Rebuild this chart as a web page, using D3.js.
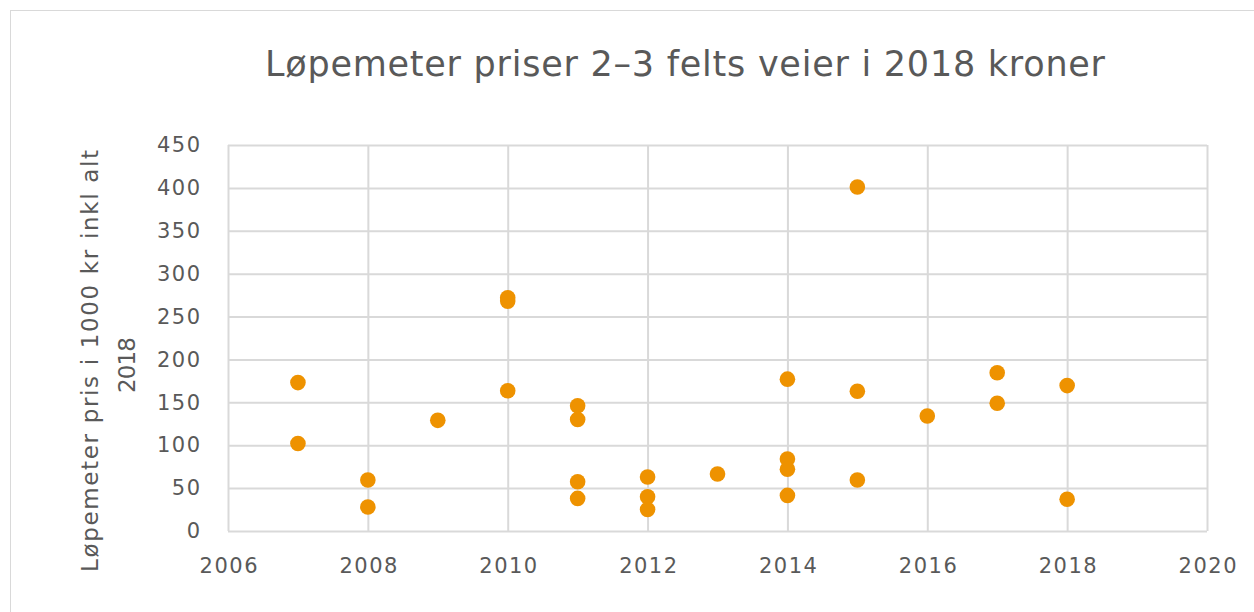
<!DOCTYPE html>
<html><head><meta charset="utf-8">
<script src="https://cdn.jsdelivr.net/npm/d3@7"></script>
<style>body{margin:0;background:#fff}svg{display:block}</style>
</head><body>
<svg id="c" width="1254" height="612"></svg>
<script>
const years = [2007,2007,2008,2008,2009,2010,2010,2010,2011,2011,2011,2011,2012,2012,2012,2013,2014,2014,2014,2014,2015,2015,2015,2016,2017,2017,2018,2018];
const prices = [173,102,59.5,28,129,272,268,163.5,146,130,57.5,38,63,40,25,66.5,177,84,72,41.5,401,163,59.5,134,184.5,149,169.5,37];
const xTicks = [2006,2008,2010,2012,2014,2016,2018,2020];
const yTicks = [0,50,100,150,200,250,300,350,400,450];
const title = "Løpemeter priser 2–3 felts veier i 2018 kroner";
const yTitle = ["Løpemeter pris i 1000 kr inkl alt","2018"];

const svg = d3.select("#c");
const font = "'DejaVu Sans', Verdana, sans-serif";
const grey = "#595959";
svg.append("rect").attr("x",10.5).attr("y",10.5).attr("width",1260).attr("height",620)
  .attr("fill","#fff").attr("stroke","#d9d9d9");

const x = d3.scaleLinear().domain([2006,2020]).range([228,1207]);
const y = d3.scaleLinear().domain([0,450]).range([531,145]);

const gx = svg.append("g").attr("transform","translate(0,531)")
  .call(d3.axisBottom(x).tickValues(xTicks).tickSize(-(531-145)).tickFormat(d3.format("d")).tickPadding(27));
gx.select(".domain").remove();
gx.selectAll("line").attr("stroke","#d9d9d9").attr("stroke-width",2);
gx.selectAll("text").attr("fill",grey).attr("dx",0.8).style("font-family",font).style("font-size","21px").style("letter-spacing","1.5px");

const gy = svg.append("g").attr("transform","translate(228,0)")
  .call(d3.axisLeft(y).tickValues(yTicks).tickSize(-(1207-228)).tickPadding(26.5));
gy.select(".domain").remove();
gy.selectAll("line").attr("stroke","#d9d9d9").attr("stroke-width",2);
gy.selectAll("text").attr("fill",grey).style("font-family",font).style("font-size","21px").style("letter-spacing","1.5px");

svg.append("g").selectAll("circle").data(years.map((d,i)=>[d,prices[i]])).join("circle")
  .attr("cx",d=>x(d[0])).attr("cy",d=>y(d[1])).attr("r",7.8).attr("fill","#EE9200");

svg.append("text").attr("x",265).attr("y",76).attr("textLength",840).attr("lengthAdjust","spacing")
  .attr("fill",grey).style("font-family",font).style("font-size","35px").text(title);

svg.append("text").attr("transform","translate(98,572) rotate(-90)")
  .attr("textLength",422).attr("lengthAdjust","spacing")
  .attr("fill",grey).style("font-family",font).style("font-size","23px").text(yTitle[0]);
svg.append("text").attr("transform","translate(135,393) rotate(-90)")
  .attr("textLength",56).attr("lengthAdjust","spacing")
  .attr("fill",grey).style("font-family",font).style("font-size","23px").text(yTitle[1]);
</script>
</body></html>
